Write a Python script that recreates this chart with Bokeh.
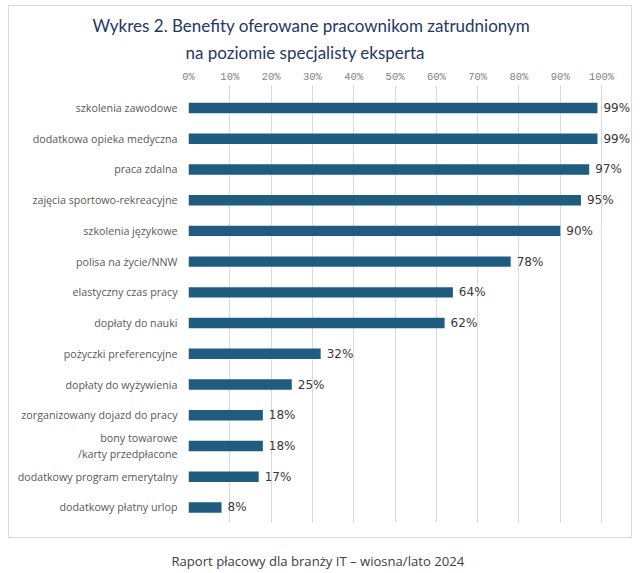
from bokeh.plotting import figure
from bokeh.models import Range1d, FixedTicker, Title, ColumnDataSource, InlineStyleSheet
from bokeh.core.properties import value
from bokeh.embed import file_html
from bokeh.resources import INLINE

categories = [
    "szkolenia zawodowe",
    "dodatkowa opieka medyczna",
    "praca zdalna",
    "zajęcia sportowo-rekreacyjne",
    "szkolenia językowe",
    "polisa na życie/NNW",
    "elastyczny czas pracy",
    "dopłaty do nauki",
    "pożyczki preferencyjne",
    "dopłaty do wyżywienia",
    "zorganizowany dojazd do pracy",
    "bony towarowe\n/karty przedpłacone",
    "dodatkowy program emerytalny",
    "dodatkowy płatny urlop",
]
values = [99, 99, 97, 95, 90, 78, 64, 62, 32, 25, 18, 18, 17, 8]
x_ticks = [0, 10, 20, 30, 40, 50, 60, 70, 80, 90, 100]
title_line1 = "Wykres 2. Benefity oferowane pracownikom zatrudnionym"
title_line2 = "na poziomie specjalisty eksperta"
footer = "Raport płacowy dla branży IT – wiosna/lato 2024"

idx = list(range(len(categories)))
src = ColumnDataSource(dict(y=idx, v=values, lab=[f"{v}%" for v in values]))

border_css = InlineStyleSheet(css="""
:host { position: relative; }
:host::after {
  content: ""; position: absolute; left: 8px; top: 5px;
  width: 622px; height: 531px; border: 1.5px solid #d9d9d9;
  pointer-events: none; z-index: 10;
}
""")

p = figure(width=640, height=573, output_backend="svg", toolbar_location=None,
           title=None,
           x_range=Range1d(0, 107), y_range=Range1d(13.49, -0.732),
           x_axis_location="above",
           min_border_left=188, min_border_right=10,
           min_border_top=85, min_border_bottom=51,
           stylesheets=[border_css])
p.outline_line_color = None
p.background_fill_color = "white"
p.border_fill_color = "white"

tstyle = dict(align="left", text_font="Lato", text_font_size="17px",
              text_font_style="normal", text_color="#1f3864")
p.add_layout(Title(text=title_line2, offset=-3, standoff=9, **tstyle), "above")
p.add_layout(Title(text=title_line1, offset=-96, standoff=0, **tstyle), "above")

# spacer between chart and footer
p.add_layout(Title(text=" ", text_font_size="1px", standoff=24,
                   text_color="white"), "below")
p.add_layout(Title(text=footer, align="left", offset=-17, text_font="Open Sans",
                   text_font_size="13.1px", text_font_style="normal",
                   text_color="#404040", standoff=0), "below")

p.hbar(y="y", left=0, right="v", height=0.34, source=src,
       fill_color="#1f5c7f", line_color=None)
p.text(x="v", y="y", text="lab", source=src, x_offset=6,
       text_baseline="middle", text_align="left",
       text_font=value("DejaVu Sans"), text_font_size="12px",
       text_color="#383838")

# x axis (top)
xa = p.xaxis[0]
xa.ticker = FixedTicker(ticks=x_ticks)
xa.major_label_overrides = {t: f"{t}%" for t in x_ticks}
xa.axis_line_color = None
xa.major_tick_line_color = None
xa.minor_tick_line_color = None
xa.major_tick_out = 0
xa.major_tick_in = 0
xa.major_label_standoff = 3
xa.major_label_text_font = "Liberation Mono"
xa.major_label_text_font_size = "10.5px"
xa.major_label_text_color = "#808080"

# y axis (left)
ya = p.yaxis[0]
ya.ticker = FixedTicker(ticks=idx)
ya.major_label_overrides = {i: c for i, c in zip(idx, categories)}
ya.axis_line_color = None
ya.major_tick_line_color = None
ya.minor_tick_line_color = None
ya.major_tick_out = 0
ya.major_tick_in = 0
ya.major_label_standoff = 11
ya.major_label_text_font = "Open Sans"
ya.major_label_text_font_size = "10.7px"
ya.major_label_text_color = "#595959"

p.ygrid.grid_line_color = None
p.xgrid.ticker = FixedTicker(ticks=x_ticks)
p.xgrid.grid_line_color = "#d9d9d9"
p.xgrid.grid_line_width = 1

open("out.html", "w").write(file_html(p, INLINE))
